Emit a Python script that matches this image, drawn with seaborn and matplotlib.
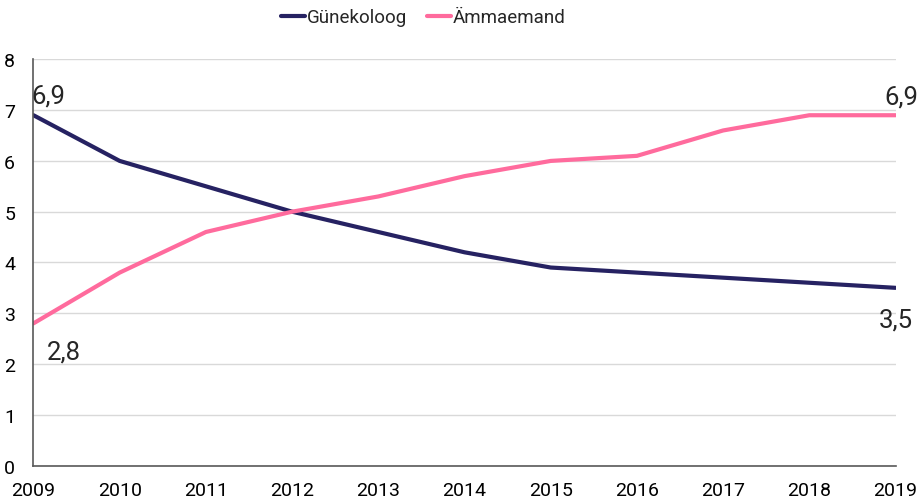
import numpy as np
import pandas as pd
import matplotlib
matplotlib.use('Agg')
import matplotlib.pyplot as plt
import seaborn as sns

years = [2009, 2010, 2011, 2012, 2013, 2014, 2015, 2016, 2017, 2018, 2019]
gunekoloog = [6.9, 6.0, 5.5, 5.0, 4.6, 4.2, 3.9, 3.8, 3.7, 3.6, 3.5]
ammaemand = [2.8, 3.8, 4.6, 5.0, 5.3, 5.7, 6.0, 6.1, 6.6, 6.9, 6.9]

df = pd.DataFrame({'Aasta': years * 2,
                   'Väärtus': gunekoloog + ammaemand,
                   'Eriala': ['Günekoloog'] * len(years) + ['Ämmaemand'] * len(years)})

sns.set_style('white')
plt.rcParams['font.family'] = ['Roboto', 'DejaVu Sans']

fig = plt.figure(figsize=(9.22, 5.02), dpi=100)
ax = fig.add_axes([0.0363, 0.0707, 0.935, 0.809])

colors = {'Günekoloog': '#262262', 'Ämmaemand': '#ff6b9d'}
sns.lineplot(data=df, x='Aasta', y='Väärtus', hue='Eriala', palette=colors, linewidth=3, ax=ax)

ax.set_xlim(2009, 2019)
ax.set_ylim(0, 8)
ax.set_xticks(years)
ax.set_yticks(range(0, 9))
ax.set_xlabel('')
ax.set_ylabel('')
ax.grid(axis='y', color='#d9d9d9', linewidth=1)
ax.set_axisbelow(True)
for s in ['top', 'right']:
    ax.spines[s].set_visible(False)
for s in ['left', 'bottom']:
    ax.spines[s].set_color('#595959')
    ax.spines[s].set_linewidth(1.2)
ax.tick_params(axis='both', which='both', direction='out', length=4.3, width=1,
               color='#595959', labelsize=14, labelcolor='black')
ax.tick_params(axis='x', pad=7)
ax.tick_params(axis='y', pad=9)

# labels at start and end points
fs = 18.5
ax.annotate('6,9', (years[0], gunekoloog[0]), xytext=(-1.4, 9.1), textcoords='offset points',
            fontsize=fs, ha='left', va='baseline')
ax.annotate('2,8', (years[0], ammaemand[0]), xytext=(9.4, -25.2), textcoords='offset points',
            fontsize=fs, ha='left', va='baseline')
ax.annotate('6,9', (years[-1], ammaemand[-1]), xytext=(4.3, 8.4), textcoords='offset points',
            fontsize=fs, ha='center', va='baseline')
ax.annotate('3,5', (years[-1], gunekoloog[-1]), xytext=(0, -27.8), textcoords='offset points',
            fontsize=fs, ha='center', va='baseline')

leg = ax.legend(loc='center', bbox_to_anchor=(0.459, 0.964), bbox_transform=fig.transFigure,
                ncol=2, frameon=False, fontsize=13.5, handlelength=1.28,
                handletextpad=0.08, columnspacing=1.07)
for line in leg.get_lines():
    line.set_linewidth(3)

fig.savefig('out.png', dpi=100)
